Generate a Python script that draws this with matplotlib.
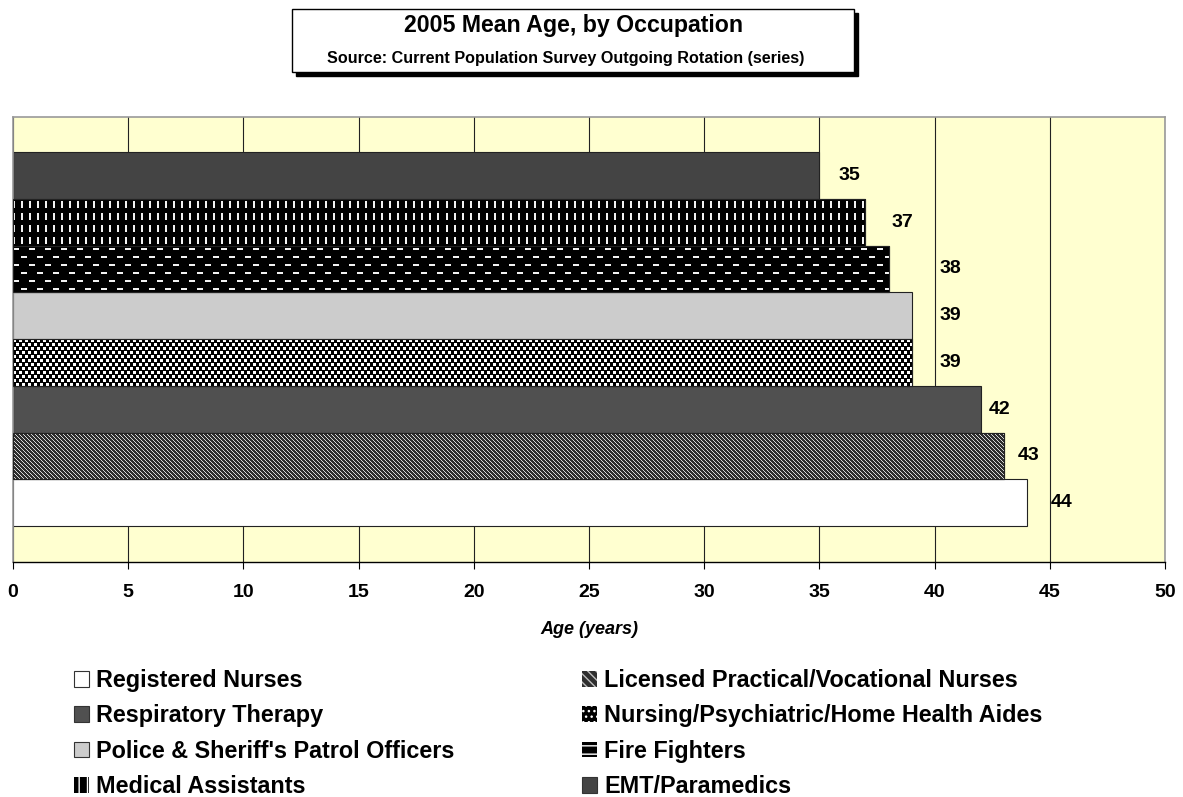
import numpy as np
import matplotlib
matplotlib.use("Agg")
import matplotlib.pyplot as plt
from matplotlib.patches import Rectangle, Patch

# data (bottom bar first)
occupations = ["Registered Nurses", "Licensed Practical/Vocational Nurses",
               "Respiratory Therapy", "Nursing/Psychiatric/Home Health Aides",
               "Police & Sheriff's Patrol Officers", "Fire Fighters",
               "Medical Assistants", "EMT/Paramedics"]
mean_age = [44, 43, 42, 39, 39, 38, 37, 35]
x_ticks = [0, 5, 10, 15, 20, 25, 30, 35, 40, 45, 50]

# fill style per series: (facecolor, texture, legend hatch, hatch colour)
styles = [
    ("#ffffff", None, None, None),
    ("#2e2e2e", "diag", "\\\\\\\\", "#bdbdbd"),
    ("#505050", None, None, None),
    ("#000000", "checker", "...", "#ffffff"),
    ("#cccccc", None, None, None),
    ("#000000", "hdash", "--", "#ffffff"),
    ("#000000", "vdash", "||", "#ffffff"),
    ("#444444", None, None, None),
]
label_offset = [1.5, 1.1, 0.8, 1.7, 1.7, 2.7, 1.6, 1.3]

W, H = 1183, 797
AX_L, AX_R, AX_T, AX_B = 13, 1165, 117, 562
XLIM = (0, 50)
YLIM = (-1.27, 8.25)


def texture(kind, nx, ny, bg):
    # Excel-like bitmap fill, one array pixel per screen pixel
    yy, xx = np.mgrid[0:ny, 0:nx]
    if kind == "diag":
        mask = (xx - yy) % 4 == 0
        fg = 0.85
    elif kind == "checker":
        mask = ((xx % 6 < 3) & (yy % 8 < 3)) | (((xx + 3) % 6 < 3) & ((yy + 4) % 8 < 3))
        fg = 1.0
    elif kind == "hdash":
        row = (yy // 8) % 2
        mask = (yy % 8 >= 3) & (yy % 8 < 5) & (((xx + 8 * row) % 16) < 6)
        fg = 0.95
    else:  # vdash
        mask = (xx % 8 < 2) & (yy % 12 >= 2) & (yy % 12 < 9)
        fg = 0.95
    base = np.array(matplotlib.colors.to_rgb(bg))
    img = np.empty((ny, nx, 3))
    img[:] = base
    img[mask] = fg
    return img


plt.rcParams['font.family'] = ['Liberation Sans', 'DejaVu Sans']
plt.rcParams['hatch.linewidth'] = 1.0

fig = plt.figure(figsize=(W / 100, H / 100), dpi=100)
ax = fig.add_axes([AX_L / W, 1 - AX_B / H, (AX_R - AX_L) / W, (AX_B - AX_T) / H])
ax.set_facecolor("#ffffd0")

px_x = (AX_R - AX_L) / (XLIM[1] - XLIM[0])
px_y = (AX_B - AX_T) / (YLIM[1] - YLIM[0])

for i, (v, (fc, tex, _, _)) in enumerate(zip(mean_age, styles)):
    bars = ax.barh(i, v, height=1.0, color=fc, edgecolor="#222222", linewidth=0.8, zorder=2)
    if tex:
        nx, ny = int(round(v * px_x)), int(round(px_y))
        im = ax.imshow(texture(tex, nx, ny, fc), extent=(0, v, i - 0.5, i + 0.5),
                       interpolation="nearest", aspect="auto", zorder=2.5)
        im.set_clip_path(bars[0])
        ax.barh(i, v, height=1.0, fill=False, edgecolor="#222222", linewidth=0.8, zorder=3)
    ax.text(v + label_offset[i], i, str(v), ha="center", va="center",
            fontsize=14, fontweight="bold", zorder=4)

ax.set_xlim(*XLIM)
ax.set_ylim(*YLIM)
ax.set_xticks(x_ticks)
ax.set_xticklabels([str(t) for t in x_ticks], fontsize=14, fontweight="bold")
ax.set_yticks([])
ax.tick_params(axis="x", direction="out", length=5, width=0.8, pad=11)
ax.grid(axis="x", color="#222222", linewidth=0.8, zorder=1)
ax.set_axisbelow(True)
for side in ["top", "left", "right"]:
    ax.spines[side].set_color("#9a9a9a")
    ax.spines[side].set_linewidth(1.2)
ax.spines["bottom"].set_color("#000000")
ax.spines["bottom"].set_linewidth(1.0)
ax.set_xlabel("Age (years)", fontsize=13, fontweight="bold", style="italic", labelpad=14)

# title box with shadow
bx0, bx1, by0, by1 = 292 / W, 854 / W, 1 - 72 / H, 1 - 9 / H
fig.patches.append(Rectangle((bx0 + 4 / W, by0 - 4 / H), bx1 - bx0, by1 - by0,
                             transform=fig.transFigure, facecolor="black", edgecolor="black"))
fig.patches.append(Rectangle((bx0, by0), bx1 - bx0, by1 - by0, transform=fig.transFigure,
                             facecolor="white", edgecolor="black", linewidth=1.0))
fig.text(574 / W, 1 - 32 / H, "2005 Mean Age, by Occupation", ha="center", va="baseline",
         fontsize=16.7, fontweight="bold")
fig.text(566 / W, 1 - 63 / H, "Source: Current Population Survey Outgoing Rotation (series)",
         ha="center", va="baseline", fontsize=11.6, fontweight="bold")

# legend, two columns
handles = []
for fc, tex, hatch, hc in styles:
    if hatch:
        handles.append(Patch(facecolor=fc, hatch=hatch, edgecolor=hc, linewidth=0))
    else:
        handles.append(Patch(facecolor=fc, edgecolor="#333333", linewidth=0.8))
left_idx = [0, 2, 4, 6]
right_idx = [1, 3, 5, 7]
for idx, xpx in [(left_idx, 74), (right_idx, 582)]:
    fig.legend([handles[k] for k in idx], [occupations[k] for k in idx],
               loc="upper left", bbox_to_anchor=(xpx / W, 1 - 669 / H),
               frameon=False, prop={"weight": "bold", "size": 16.8},
               handlelength=0.64, handleheight=0.64, handletextpad=0.3,
               labelspacing=0.53, borderpad=0, borderaxespad=0)

fig.savefig("out.png", dpi=100, facecolor="white")
